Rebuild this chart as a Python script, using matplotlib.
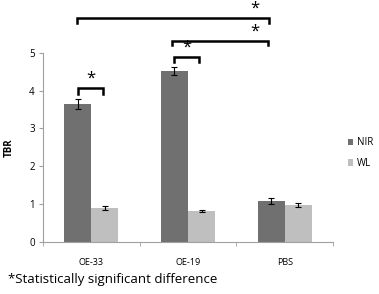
import matplotlib.pyplot as plt
import numpy as np

groups = ['OE-33', 'OE-19', 'PBS']
nir = [3.65, 4.52, 1.09]
nir_err = [0.14, 0.11, 0.08]
wl = [0.89, 0.82, 0.98]
wl_err = [0.05, 0.02, 0.05]

plt.rcParams['font.family'] = ['Open Sans', 'DejaVu Sans']

fig = plt.figure(figsize=(3.79, 2.94), dpi=100)
ax = fig.add_axes([43 / 379, 1 - 241.7 / 294, 290 / 379, 188.7 / 294])

x = np.arange(len(groups))
w = 0.28
ax.bar(x - w / 2, nir, w, color='#707070', label='NIR', zorder=2)
ax.bar(x + w / 2, wl, w, color='#bfbfbf', label='WL', zorder=2)
ax.errorbar(x - w / 2, nir, yerr=nir_err, fmt='none', ecolor='black', elinewidth=0.8, capsize=2, capthick=0.8, zorder=3)
ax.errorbar(x + w / 2, wl, yerr=wl_err, fmt='none', ecolor='black', elinewidth=0.8, capsize=2, capthick=0.8, zorder=3)

ax.set_xlim(-0.5, 2.5)
ax.set_ylim(0, 5)
ax.set_yticks([0, 1, 2, 3, 4, 5])
ax.set_xticks(x)
ax.set_xticklabels(groups, fontsize=6.5)
ax.set_xticks([-0.5, 0.5, 1.5, 2.5], minor=True)
ax.tick_params(axis='x', which='major', length=0, pad=12)
ax.tick_params(axis='x', which='minor', length=3, color='#a0a0a0', direction='out')
ax.tick_params(axis='y', length=3, color='#a0a0a0', labelsize=7, pad=3)
for s in ['top', 'right']:
    ax.spines[s].set_visible(False)
for s in ['left', 'bottom']:
    ax.spines[s].set_color('#a0a0a0')
    ax.spines[s].set_linewidth(0.8)
ax.set_ylabel('TBR', fontsize=7, fontweight='bold', labelpad=10)


def bracket(x0, x1, y, leg=0.13):
    ax.plot([x0, x0, x1, x1], [y - leg, y, y, y - leg], color='black', lw=1.8,
            clip_on=False, solid_joinstyle='miter')


bracket(-0.5 + 0.36, -0.5 + 0.62, 4.07, 0.15)
ax.text(-0.01, 4.1, '*', ha='center', va='bottom', fontsize=12)
bracket(0.5 + 0.36, 0.5 + 0.61, 4.9, 0.13)
ax.text(0.99, 4.93, '*', ha='center', va='bottom', fontsize=12)
bracket(0.5 + 0.33, 2.5 - 0.67, 5.33, 0.13)
ax.text(1.69, 5.36, '*', ha='center', va='bottom', fontsize=12)
bracket(-0.5 + 0.35, 2.5 - 0.66, 5.92, 0.12)
ax.text(1.69, 5.95, '*', ha='center', va='bottom', fontsize=12)

ax.legend(loc='center left', bbox_to_anchor=(1.02, 0.47), frameon=False, fontsize=7,
          handlelength=0.6, handleheight=0.6, handletextpad=0.4, labelspacing=1.0)

fig.text(8 / 379, 1 - 283 / 294, '*Statistically significant difference', fontsize=9.5, va='baseline')

fig.savefig('out.png', dpi=100)
